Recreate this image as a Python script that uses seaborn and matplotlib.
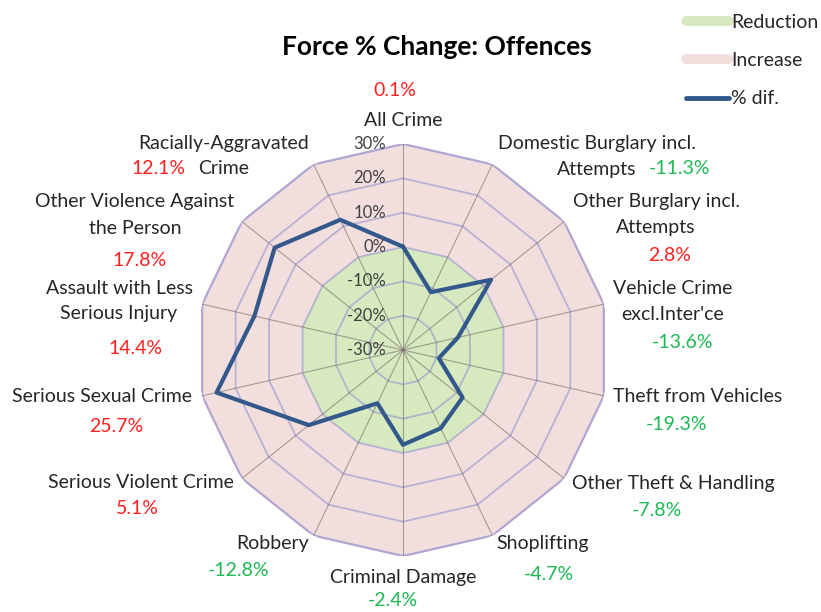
import numpy as np
import pandas as pd
import matplotlib.pyplot as plt
import seaborn as sns
from matplotlib.lines import Line2D
from matplotlib.transforms import offset_copy

# Data
categories = ["All Crime", "Domestic Burglary incl.\nAttempts", "Other Burglary incl.\nAttempts",
              "Vehicle Crime\nexcl.Inter'ce", "Theft from Vehicles", "Other Theft & Handling",
              "Shoplifting", "Criminal Damage", "Robbery", "Serious Violent Crime",
              "Serious Sexual Crime", "Assault with Less\nSerious Injury",
              "Other Violence Against\nthe Person", "Racially-Aggravated\nCrime"]
pct_change = [0.1, -11.3, 2.8, -13.6, -19.3, -7.8, -4.7, -2.4, -12.8, 5.1, 25.7, 14.4, 17.8, 12.1]
r_ticks = [-30, -20, -10, 0, 10, 20, 30]

# label layout in pixels (x, y of first line) of an 821x612 canvas
cat_pos = [(403, 120), (597, 143), (656, 202), (673, 288), (698, 396), (673, 483), (543, 543),
           (403, 578), (273, 543), (141, 483), (102, 396), (119, 288), (135, 202), (224, 143)]
val_pos = [(395, 91), (680, 168), (670, 255), (682, 342), (676, 424), (657, 511), (549, 575),
           (393, 601), (238, 571), (137, 509), (116, 426), (135, 348), (140, 261), (158, 168)]

W, H = 821, 612
GREEN = '#d6e9bf'
PINK = '#f2dedd'
LINE = '#33598c'

sns.set_style("white")
plt.rcParams['font.family'] = ['Lato', 'DejaVu Sans']

fig = plt.figure(figsize=(W / 100, H / 100), dpi=100)
cx, cy, rad = 403, 350, 206
ax = fig.add_axes([(cx - rad) / W, (H - cy - rad) / H, 2 * rad / W, 2 * rad / H], projection='polar')
ax.set_theta_zero_location('N')
ax.set_theta_direction(-1)

n = len(categories)
theta = np.linspace(0, 2 * np.pi, n, endpoint=False)
th = np.append(theta, theta[0])
rmax, rmin = r_ticks[-1], r_ticks[0]

# background bands: increase (0..30) and reduction (-30..0)
ax.fill(th, np.full(n + 1, rmax), color=PINK, zorder=1, lw=0)
ax.fill(th, np.full(n + 1, 0), color=GREEN, zorder=2, lw=0)

# polygonal gridlines
for lvl in r_ticks[1:-1]:
    ax.plot(th, np.full(n + 1, lvl), color='#9494d0', alpha=0.6, lw=1.3, zorder=3)
ax.plot(th, np.full(n + 1, rmax), color='#b0a6d2', lw=1.6, zorder=3)
for t in theta:
    ax.plot([t, t], [rmin, rmax], color='#6e6060', alpha=0.55, lw=0.8, zorder=3)

# % dif. line
df = pd.DataFrame({'theta': th, 'change': np.append(pct_change, pct_change[0])})
sns.lineplot(data=df, x='theta', y='change', sort=False, estimator=None,
             color=LINE, lw=3, ax=ax, zorder=5)

ax.set_ylim(rmin, rmax)
ax.set_axis_off()

# radial tick labels
trans = offset_copy(ax.transData, fig=fig, x=-17, y=0, units='dots')
for v in r_ticks:
    ax.text(0, v, f'{v}%', transform=trans, ha='right', va='center',
            fontsize=12, color='#404040', zorder=6)

# category and value labels (one text per line so blocks stay tight)
for cat, val, (x, y), (vx, vy) in zip(categories, pct_change, cat_pos, val_pos):
    for i, line in enumerate(cat.split('\n')):
        fig.text(x / W, 1 - (y + 26 * i) / H, line, ha='center', va='center',
                 fontsize=14, color='#262626')
    fig.text(vx / W, 1 - vy / H, f'{val}%', ha='center', va='center', fontsize=14,
             color='#ff2020' if val > 0 else '#1db954')

fig.text(437 / W, 1 - 47 / H, 'Force % Change: Offences', ha='center', va='center',
         fontsize=19, fontweight='bold', color='black')

handles = [Line2D([], [], color=GREEN, lw=7, solid_capstyle='round'),
           Line2D([], [], color=PINK, lw=7, solid_capstyle='round'),
           Line2D([], [], color=LINE, lw=3.5, solid_capstyle='round')]
fig.legend(handles, ['Reduction', 'Increase', '% dif.'], loc='upper left',
           bbox_to_anchor=(676 / W, 1 - 4 / H), frameon=False, fontsize=14,
           handlelength=2.2, handletextpad=0.15, labelspacing=1.1, borderpad=0,
           labelcolor='#262626')

fig.savefig('out.png', dpi=100)
